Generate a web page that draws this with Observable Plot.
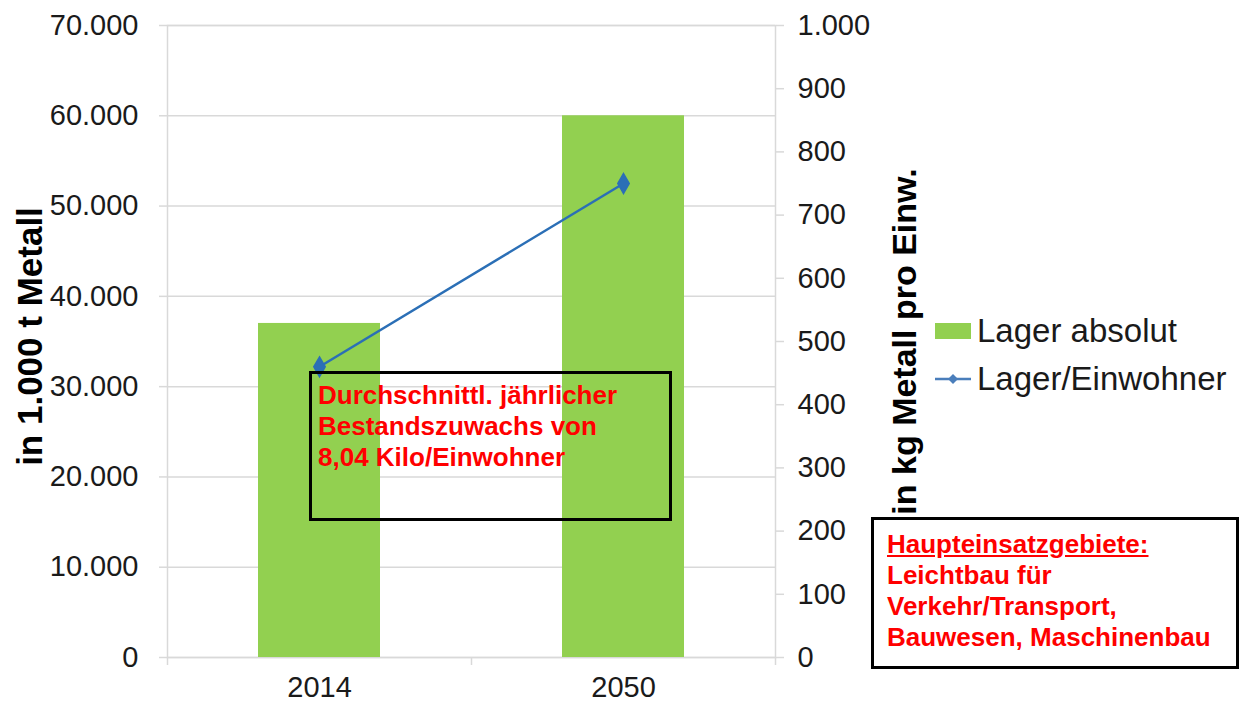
<!DOCTYPE html>
<html>
<head>
<meta charset="utf-8">
<script src="https://cdn.jsdelivr.net/npm/d3@7"></script>
<script src="https://cdn.jsdelivr.net/npm/@observablehq/plot@0.6"></script>
<style>
  html, body { margin: 0; padding: 0; background: #fff; }
  #wrap { position: relative; width: 1242px; height: 703px; font-family: "Liberation Sans", Arial, sans-serif; }
  .box { position: absolute; box-sizing: border-box; border: 3px solid #000; color: #ff0000; font-weight: bold; font-size: 26px; line-height: 31px; white-space: nowrap; }
  .legend { position: absolute; left: 935px; font-size: 33px; color: #1a1a1a; white-space: nowrap; display: flex; align-items: center; }
</style>
</head>
<body>
<div id="wrap"></div>
<script>
// ---- data ----
const years = ["2014", "2050"];
const stockAbs = [37000, 60000];          // Lager absolut, in 1.000 t Metall (left axis)
const stockPerCap = [460, 750];           // Lager/Einwohner, in kg Metall pro Einw. (right axis)
const leftTicks = [0, 10000, 20000, 30000, 40000, 50000, 60000, 70000];
const rightTicks = [0, 100, 200, 300, 400, 500, 600, 700, 800, 900, 1000];
const leftTitle = "in 1.000 t Metall";
const rightTitle = "in kg Metall pro Einw.";
const seriesNames = ["Lager absolut", "Lager/Einwohner"];
const note1 = ["Durchschnittl. jährlicher", "Bestandszuwachs von", "8,04 Kilo/Einwohner"];
const note2Head = "Haupteinsatzgebiete:";
const note2 = ["Leichtbau für", "Verkehr/Transport,", "Bauwesen, Maschinenbau"];

const data = years.map((y, i) => ({year: y, abs: stockAbs[i], perCap: stockPerCap[i]}));
const ratio = leftTicks[leftTicks.length - 1] / rightTicks[rightTicks.length - 1];

const de = d3.formatLocale({decimal: ",", thousands: ".", grouping: [3], currency: ["", " €"]});
const fmt = de.format(",.0f");

const green = "#92D050";
const blue = "#2B6FB6";
const grid = "#d9d9d9";

const W = 1242, H = 703;
const mL = 167, mR = 467, mT = 25, mB = 46;
const halfStep = (W - mL - mR) / years.length / 2;

const chart = Plot.plot({
  width: W, height: H,
  marginLeft: mL, marginRight: mR, marginTop: mT, marginBottom: mB,
  style: {fontFamily: "'Liberation Sans', Arial, sans-serif", fontSize: "29px", color: "#1a1a1a", background: "transparent", overflow: "visible"},
  x: {type: "band", domain: years, paddingInner: 0.6, paddingOuter: 0.3, label: null},
  y: {domain: [0, leftTicks[leftTicks.length - 1]], label: null},
  marks: [
    Plot.ruleY(leftTicks, {stroke: grid, strokeWidth: 1.5}),
    Plot.frame({stroke: grid, strokeWidth: 1.5}),
    Plot.ruleX(years, {x: d => d, y1: 0, y2: 0, insetBottom: -8, dx: -halfStep, stroke: grid, strokeWidth: 1.5}),
    Plot.ruleX(years.slice(-1), {x: d => d, y1: 0, y2: 0, insetBottom: -8, dx: halfStep, stroke: grid, strokeWidth: 1.5}),
    Plot.barY(data, {x: "year", y: "abs", fill: green}),
    Plot.line(data, {x: "year", y: d => d.perCap * ratio, stroke: blue, strokeWidth: 2.5}),
    Plot.dot(data, {x: "year", y: d => d.perCap * ratio, symbol: "diamond", r: 6, fill: blue, stroke: blue}),
    Plot.axisY({anchor: "left", ticks: leftTicks, tickFormat: fmt, tickSize: 8, tickPadding: 21, stroke: grid, strokeWidth: 1.5, fill: "#1a1a1a", label: null}),
    Plot.axisY({anchor: "right", ticks: rightTicks.map(v => v * ratio), tickFormat: v => fmt(v / ratio), tickSize: 8, tickPadding: 14, stroke: grid, strokeWidth: 1.5, fill: "#1a1a1a", label: null}),
    Plot.axisX({tickSize: 0, tickPadding: 19, fill: "#1a1a1a", label: null}),
    Plot.text([leftTitle], {frameAnchor: "left", textAnchor: "middle", lineAnchor: "middle", rotate: -90, dx: -137, dy: -5, fontSize: 35, fontWeight: "bold", fill: "#000"}),
    Plot.text([rightTitle], {frameAnchor: "right", textAnchor: "middle", lineAnchor: "middle", rotate: -90, dx: 130, fontSize: 34, fontWeight: "bold", fill: "#000"})
  ]
});
chart.style.position = "absolute";
chart.style.left = "0px";
chart.style.top = "0px";
const wrap = document.getElementById("wrap");
wrap.appendChild(chart);

// ---- annotation box 1 ----
const b1 = document.createElement("div");
b1.className = "box";
Object.assign(b1.style, {left: "309px", top: "371px", width: "363px", height: "150px", padding: "6px 0 0 6px", background: "transparent"});
b1.innerHTML = note1.map(t => `<div>${t}</div>`).join("");
wrap.appendChild(b1);

// ---- annotation box 2 ----
const b2 = document.createElement("div");
b2.className = "box";
Object.assign(b2.style, {left: "871px", top: "517px", width: "368px", height: "152px", padding: "9px 0 0 13px", background: "#fff"});
b2.innerHTML = `<div style="text-decoration:underline">${note2Head}</div>` + note2.map(t => `<div>${t}</div>`).join("");
wrap.appendChild(b2);

// ---- legend ----
const l1 = document.createElement("div");
l1.className = "legend";
l1.style.top = "312px";
l1.innerHTML = `<span style="display:inline-block;width:36px;height:16px;background:${green};margin-right:6px"></span><span>${seriesNames[0]}</span>`;
wrap.appendChild(l1);

const l2 = document.createElement("div");
l2.className = "legend";
l2.style.top = "360px";
l2.innerHTML = `<svg width="36" height="16" style="margin-right:6px"><line x1="0" y1="8" x2="36" y2="8" stroke="#4A7EBB" stroke-width="2.5"/><path d="M18 3 L23 8 L18 13 L13 8 Z" fill="#4A7EBB"/></svg><span>${seriesNames[1]}</span>`;
wrap.appendChild(l2);
</script>
</body>
</html>
